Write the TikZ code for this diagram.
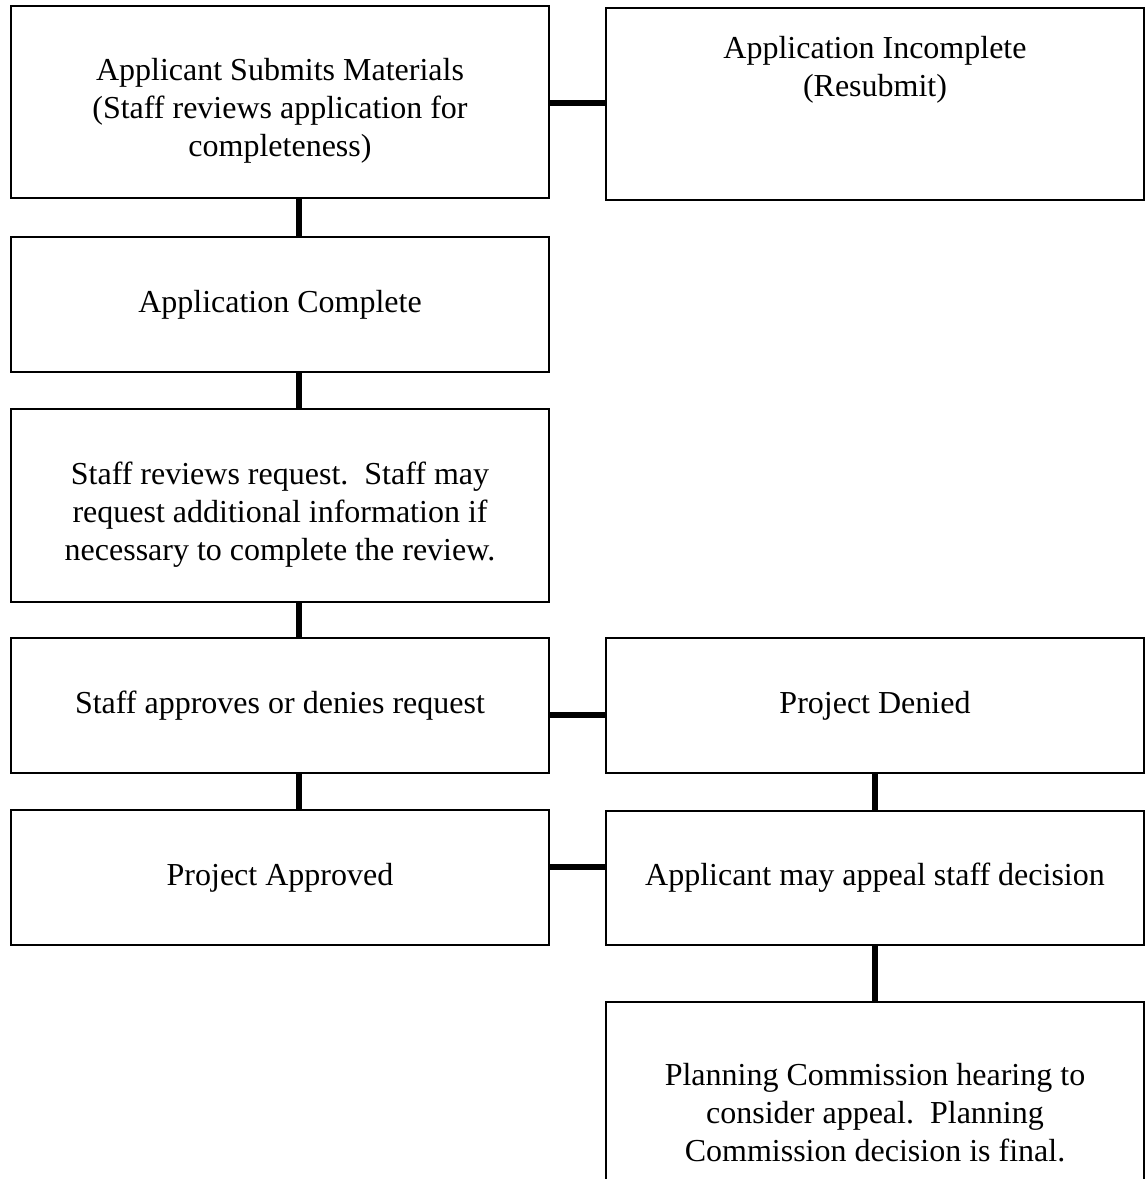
\documentclass[tikz,border=0pt]{standalone}
\usepackage{fontspec}
\setmainfont{Liberation Serif}
\usetikzlibrary{positioning}
\tikzset{
  stagebox/.style={draw, line width=2pt, minimum width=538pt, align=center, inner sep=0pt,
    font=\fontsize{32}{38}\selectfont},
  link/.style={line width=6pt},
}
% taller first line, pushes the text a little down in its box
\newcommand{\lowstart}{\rule{0pt}{40pt}}

\begin{document}
\begin{tikzpicture}[x=1pt, y=-1pt]
  \clip (0,0) rectangle (1145,1179);
  % Left column
  \node[stagebox, minimum height=192pt] (submit) at (280,102)
    {\lowstart Applicant Submits Materials\\(Staff reviews application for\\completeness)};
  \node[stagebox, minimum height=135pt] (complete) at (280,304.5) {Application Complete};
  \node[stagebox, minimum height=193pt] (review) at (280,505.5)
    {\lowstart Staff reviews request.\ \ Staff may\\request additional information if\\necessary to complete the review.};
  \node[stagebox, minimum height=135pt] (decide) at (280,705.5) {Staff approves or denies request};
  \node[stagebox, minimum height=135pt] (approved) at (280,877.5) {Project Approved};
  % Right column
  \node[stagebox, minimum height=192pt] (incomplete) at (875,104)
    {Application Incomplete\\(Resubmit)\\\mbox{}\\\mbox{}};
  \node[stagebox, minimum height=135pt] (denied) at (875,705.5) {Project Denied};
  \node[stagebox, minimum height=134pt] (appeal) at (875,878) {Applicant may appeal staff decision};
  \node[stagebox, minimum height=222pt] (hearing) at (875,1113)
    {Planning Commission hearing to\\consider appeal.\ \ Planning\\Commission decision is final.};
  % Connectors
  \draw[link] ([yshift=-1pt]submit.east) -- ([yshift=-1pt]submit.east -| incomplete.west);
  \draw[link] ([xshift=19pt]submit.south) -- ([xshift=19pt]complete.north);
  \draw[link] ([xshift=19pt]complete.south) -- ([xshift=19pt]review.north);
  \draw[link] ([xshift=19pt]review.south) -- ([xshift=19pt]decide.north);
  \draw[link] ([xshift=19pt]decide.south) -- ([xshift=19pt]approved.north);
  \draw[link] ([yshift=-9.5pt]decide.east) -- ([yshift=-9.5pt]denied.west);
  \draw[link] (denied) -- (appeal);
  \draw[link] ([yshift=10.5pt]approved.east) -- ([yshift=10.5pt]approved.east -| appeal.west);
  \draw[link] (appeal) -- (hearing);
\end{tikzpicture}
\end{document}
